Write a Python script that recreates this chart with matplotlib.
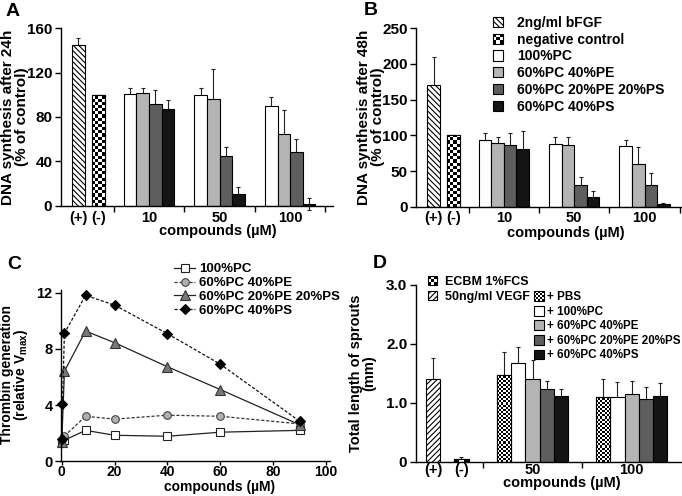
import numpy as np
import matplotlib
matplotlib.use('Agg')
import matplotlib.pyplot as plt
from matplotlib.patches import Rectangle
from matplotlib.legend_handler import HandlerBase

plt.rcParams['font.family'] = ['Liberation Sans', 'DejaVu Sans']
plt.rcParams['font.weight'] = 'bold'
plt.rcParams['axes.labelweight'] = 'bold'
plt.rcParams['mathtext.fontset'] = 'custom'
plt.rcParams['mathtext.rm'] = 'Liberation Sans:bold'
plt.rcParams['hatch.linewidth'] = 0.8
plt.rcParams['hatch.color'] = 'black'

# ---- data -------------------------------------------------------------
ctrl_labels = ['(+)', '(-)']
lipids = ['100%PC', '60%PC 40%PE', '60%PC 20%PE 20%PS', '60%PC 40%PS']

# A: DNA synthesis after 24h, concentrations 10/50/100 uM
conc_ab = ['10', '50', '100']
a_ctrl = [145, 100]
a_ctrl_err = [6, 0]
a_vals = [[101, 100, 90], [102, 96, 65], [92, 45, 48], [87, 11, 1.5]]
a_errs = [[5, 6, 8], [4, 27, 21], [12, 8, 12], [8, 6, 5]]

# B: DNA synthesis after 48h
b_ctrl = [171, 100]
b_ctrl_err = [39, 0]
b_vals = [[93, 88, 85], [89, 86, 60], [87, 31, 30], [81, 13, 4]]
b_errs = [[10, 10, 8], [9, 11, 23], [16, 11, 17], [25, 9, 1]]

# C: thrombin generation
c_x = [0, 1, 9, 20, 40, 60, 90]
c_pc = [1.3, 1.5, 2.2, 1.85, 1.78, 2.07, 2.2]
c_pe = [1.5, 1.8, 3.2, 3.0, 3.28, 3.2, 2.66]
c_peps = [1.4, 6.4, 9.26, 8.43, 6.72, 5.1, 2.6]
c_x_ps = [0, 0.25, 1, 9, 20, 40, 60, 90]
c_ps = [1.6, 4.1, 9.1, 11.8, 11.1, 9.07, 6.9, 2.85]

# D: total length of sprouts
conc_d = ['50', '100']
d_ctrl = [1.41, 0.05]
d_ctrl_err = [0.35, 0.03]
d_names = ['+ PBS'] + ['+ ' + s for s in lipids]
d_vals = [[1.47, 1.09], [1.68, 1.10], [1.41, 1.15], [1.24, 1.06], [1.11, 1.11]]
d_errs = [[0.39, 0.31], [0.26, 0.26], [0.31, 0.22], [0.13, 0.20], [0.13, 0.23]]

grays = ['white', '#b4b4b4', '#5e5e5e', '#141414']


def checker(ax, rect, ncols):
    x0, y0 = rect.get_x(), rect.get_y()
    w, h = rect.get_width(), rect.get_height()
    (px0, py0), (px1, py1) = ax.transData.transform([(x0, y0), (x0 + w, y0 + h)])
    cell = (px1 - px0) / ncols
    nrows = max(1, int(np.ceil((py1 - py0) / cell)))
    dy = h / (py1 - py0) * cell
    img = np.indices((nrows, ncols)).sum(axis=0) % 2
    im = ax.imshow(img, extent=(x0, x0 + w, y0, y0 + nrows * dy), cmap='gray',
                   vmin=0, vmax=1, interpolation='nearest', aspect='auto', zorder=2.5)
    im.set_clip_path(rect)
    ax.add_patch(Rectangle((x0, y0), w, h, fill=False, ec='black', lw=0.8, zorder=3))


class CheckerHandler(HandlerBase):
    def __init__(self, n):
        super().__init__()
        self.n = n

    def create_artists(self, legend, orig_handle, xdescent, ydescent, width, height, fontsize, trans):
        s = min(width, height)
        x0 = -xdescent + (width - s) / 2
        y0 = -ydescent + (height - s) / 2
        c = s / self.n
        arts = [Rectangle((x0, y0), s, s, fc='white', ec='none', transform=trans)]
        for i in range(self.n):
            for j in range(self.n):
                if (i + j) % 2 == 0:
                    arts.append(Rectangle((x0 + i * c, y0 + j * c), c, c, fc='black', ec='none', transform=trans))
        arts.append(Rectangle((x0, y0), s, s, fill=False, ec='black', lw=0.8, transform=trans))
        return arts


def errbars(ax, x, y, e):
    eb = ax.errorbar(x, y, yerr=e, fmt='none', ecolor='#222222', elinewidth=0.8,
                     capsize=1.6, capthick=0.8, zorder=1)
    for art in list(eb.lines[1]) + list(eb.lines[2]):
        art.set_clip_on(False)


def style(ax, ysize=11):
    for s in ['top', 'right']:
        ax.spines[s].set_visible(False)
    for s in ['left', 'bottom']:
        ax.spines[s].set_linewidth(1.0)
    ax.tick_params(axis='y', direction='out', length=4, width=1.0, labelsize=ysize, pad=2)


fig = plt.figure(figsize=(6.82, 4.96), dpi=100)


def box(l, t, r, b):
    return [l / 682, 1 - b / 496, (r - l) / 682, (b - t) / 496]


def px(x, y):
    return x / 682, 1 - y / 496


def bar_panel(ax, ctrl, ctrl_err, vals, errs, ctrl_x, centers, xmax, ymax, yticks,
              hatch, ncheck, group_colors, xpad, check_first=False, nfine=7):
    style(ax)
    ax.set_xlim(0, xmax)
    ax.set_ylim(0, ymax)
    ax.set_yticks(yticks)
    n = len(vals)
    centers = np.array(centers)
    errbars(ax, ctrl_x, ctrl, ctrl_err)
    cb = ax.bar(ctrl_x, ctrl, width=1.0, color='white', edgecolor='black', lw=0.8, zorder=2)
    cb[0].set_hatch(hatch)
    checker(ax, cb[1], ncheck)
    for i in range(n):
        xs = centers + (i - (n - 1) / 2)
        errbars(ax, xs, vals[i], errs[i])
        bars = ax.bar(xs, vals[i], width=1.0, color=group_colors[i], edgecolor='black', lw=0.8, zorder=2)
        if check_first and i == 0:
            for r in bars:
                checker(ax, r, nfine)
    ax.set_xlim(0, xmax)
    ax.set_ylim(0, ymax)
    ax.set_xticks(list(ctrl_x) + list(centers))
    bounds = [ctrl_x[1] + 0.5 + (centers[0] - n / 2 - ctrl_x[1] - 0.5) / 2]
    gap = centers[1] - centers[0]
    bounds += list(centers + gap / 2)
    ax.set_xticks([b for b in bounds if b <= xmax + 0.01], minor=True)
    ax.tick_params(axis='x', which='major', length=0, labelsize=10.5, pad=xpad)
    ax.tick_params(axis='x', which='minor', length=4, width=1.0, direction='out')


# ---- A ----------------------------------------------------------------
axA = fig.add_axes(box(60.7, 28.3, 333, 205.7))
bar_panel(axA, a_ctrl, a_ctrl_err, a_vals, a_errs, [1.4, 3.0], [7.0, 12.6, 18.2], 21.6, 160,
          [0, 40, 80, 120, 160], '\\\\\\\\\\\\', 4, grays, 3.5)
axA.set_xticklabels(ctrl_labels + conc_ab)

# ---- B ----------------------------------------------------------------
axB = fig.add_axes(box(416, 28.3, 681, 206.7))
bar_panel(axB, b_ctrl, b_ctrl_err, b_vals, b_errs, [1.4, 3.0], [7.0, 12.6, 18.2], 21.1, 250,
          [0, 50, 100, 150, 200, 250], '\\\\\\\\\\\\', 4, grays, 3.0)
axB.set_xticklabels(ctrl_labels + conc_ab)
hB = [Rectangle((0, 0), 1, 1, fc='white', ec='black', lw=0.8, hatch='\\\\\\\\\\\\'),
      Rectangle((0, 0), 1, 1, fc='white', ec='black')]
hB += [Rectangle((0, 0), 1, 1, fc=c, ec='black', lw=0.8) for c in grays]
axB.legend(hB, ['2ng/ml bFGF', 'negative control'] + lipids, loc='upper left',
           bbox_to_anchor=(0.29, 1.07), frameon=False, fontsize=10, borderpad=0,
           borderaxespad=0, handlelength=0.75, handleheight=0.75, handletextpad=1.0,
           labelspacing=0.2, handler_map={hB[1]: CheckerHandler(3)})

# ---- C ----------------------------------------------------------------
axC = fig.add_axes(box(61, 289.7, 330, 461.3))
style(axC, 10.5)
axC.set_xlim(-0.3, 101.5)
axC.set_ylim(0, 12.2)
axC.set_yticks([0, 4, 8, 12])
axC.set_xticks([0, 20, 40, 60, 80, 100])
axC.tick_params(axis='x', direction='out', length=3, width=1.0, labelsize=10, pad=0)
lkw = dict(lw=0.9, clip_on=False, markeredgewidth=0.8)
axC.plot(c_x, c_pc, '-', color='#222222', marker='s', ms=5.5, mfc='white', mec='#222222', label=lipids[0], **lkw)
axC.plot(c_x, c_pe, color='#333333', ls=(0, (2.5, 1.5)), marker='o', ms=5.5, mfc='#b0b0b0', mec='#444444', label=lipids[1], **lkw)
axC.plot(c_x, c_peps, '-', color='#222222', marker='^', ms=6.5, mfc='#787878', mec='#333333', label=lipids[2], **lkw)
axC.plot(c_x_ps, c_ps, color='#111111', ls=(0, (2.5, 1.5)), marker='D', ms=5, mfc='black', mec='black', label=lipids[3], **lkw)
axC.legend(loc='upper left', bbox_to_anchor=(0.42, 1.155), frameon=False, fontsize=9.5,
           borderpad=0, borderaxespad=0, handlelength=1.6, handletextpad=0.3,
           labelspacing=0.12, numpoints=1)

# ---- D ----------------------------------------------------------------
axD = fig.add_axes(box(415.7, 285, 681, 461.7))
bar_panel(axD, d_ctrl, d_ctrl_err, d_vals, d_errs, [1.22, 3.2], [8.17, 15.1], 18.55, 3.0,
          [0, 1, 2, 3], '//////', 3, ['white'] + grays, 1.0, check_first=True, nfine=7)
axD.set_yticklabels(['0', '1.0', '2.0', '3.0'])
axD.set_xticklabels(ctrl_labels + conc_d)
hD1 = [Rectangle((0, 0), 1, 1, fc='white', ec='black'),
       Rectangle((0, 0), 1, 1, fc='white', ec='black', lw=0.8, hatch='//////')]
legD1 = axD.legend(hD1, ['ECBM 1%FCS', '50ng/ml VEGF'], loc='upper left',
                   bbox_to_anchor=(0.046, 1.05), frameon=False, fontsize=9, borderpad=0,
                   borderaxespad=0, handlelength=0.75, handleheight=0.75, handletextpad=0.6,
                   labelspacing=0.2, handler_map={hD1[0]: CheckerHandler(3)})
axD.add_artist(legD1)
hD2 = [Rectangle((0, 0), 1, 1, fc='white', ec='black')]
hD2 += [Rectangle((0, 0), 1, 1, fc=c, ec='black', lw=0.8) for c in grays]
axD.legend(hD2, d_names, loc='upper left', bbox_to_anchor=(0.445, 0.965), frameon=False,
           fontsize=8.4, borderpad=0, borderaxespad=0, handlelength=0.9, handleheight=0.9,
           handletextpad=0.2, labelspacing=0.22, handler_map={hD2[0]: CheckerHandler(5)})

# ---- labels -----------------------------------------------------------
lab = dict(rotation=90, ha='center', va='center', fontweight='bold',
           multialignment='center', linespacing=0.92)
fig.text(*px(15, 117), 'DNA synthesis after 24h\n(% of control)', fontsize=11, **lab)
fig.text(*px(371, 117), 'DNA synthesis after 48h\n(% of control)', fontsize=11, **lab)
fig.text(*px(15, 375), 'Thrombin generation\n(relative V$_\\mathrm{max}$)', fontsize=10, **lab)
fig.text(*px(363, 373), 'Total length of sprouts\n(mm)', fontsize=10.5, **lab)

xl = dict(ha='center', va='center', fontweight='bold')
fig.text(*px(218, 231), 'compounds (\u00b5M)', fontsize=10.5, **xl)
fig.text(*px(566, 232.5), 'compounds (\u00b5M)', fontsize=10.5, **xl)
fig.text(*px(219.5, 486.5), 'compounds (\u00b5M)', fontsize=10, **xl)
fig.text(*px(562, 483), 'compounds (\u00b5M)', fontsize=10.5, **xl)

pl = dict(ha='center', va='center', fontsize=14, fontweight='bold')
fig.text(*px(13, 11), 'A', **pl)
fig.text(*px(370.5, 10.5), 'B', **pl)
fig.text(*px(14.7, 264.7), 'C', **pl)
fig.text(*px(380, 263.3), 'D', **pl)

fig.savefig('out.png', dpi=100)
